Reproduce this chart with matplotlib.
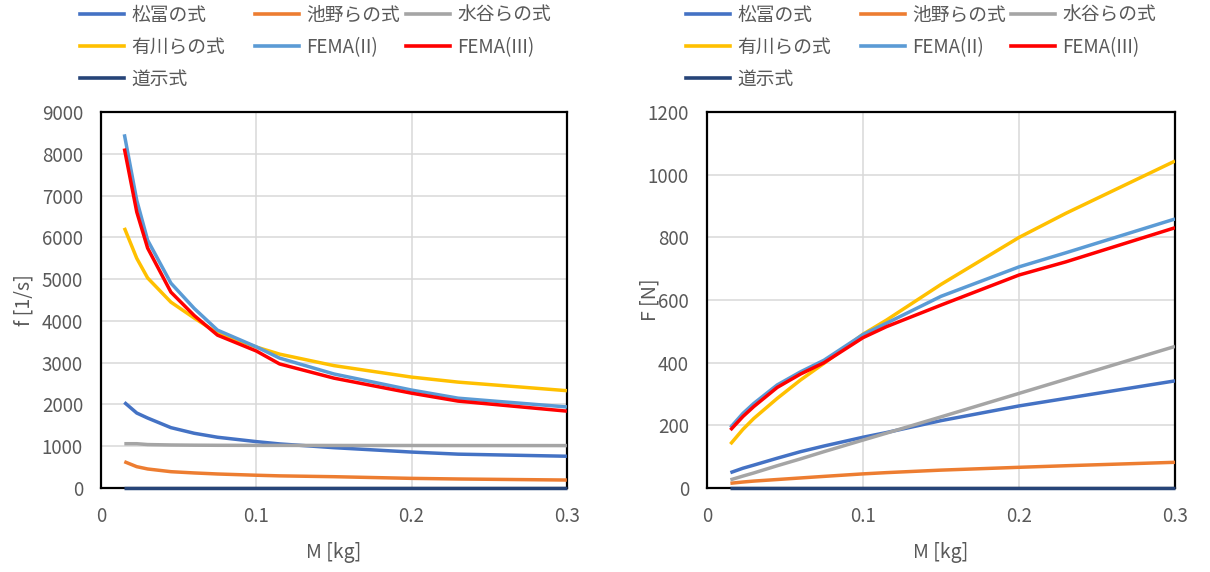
import numpy as np
import matplotlib.pyplot as plt
from matplotlib.lines import Line2D

plt.rcParams['font.family'] = ['Noto Sans CJK JP', 'DejaVu Sans']

# masses [kg]
M = [0.015, 0.023, 0.03, 0.045, 0.06, 0.075, 0.1, 0.115, 0.15, 0.2, 0.23, 0.3]

names = ['松冨の式', '池野らの式', '水谷らの式', '有川らの式', 'FEMA(II)', 'FEMA(III)', '道示式']
colors = ['#4472C4', '#ED7D31', '#A5A5A5', '#FFC000', '#5B9BD5', '#FF0000', '#264478']

# frequency f [1/s]
f_matsutomi = [2050, 1795, 1675, 1445, 1310, 1215, 1110, 1055, 965, 860, 810, 760]
f_ikeno = [630, 510, 455, 390, 360, 335, 305, 290, 270, 230, 215, 190]
f_mizutani = [1060, 1060, 1040, 1030, 1025, 1022, 1020, 1020, 1018, 1017, 1016, 1015]
f_arikawa = [6230, 5500, 5030, 4450, 4070, 3710, 3375, 3205, 2930, 2655, 2535, 2330]
f_fema2 = [8470, 6890, 5935, 4905, 4300, 3780, 3380, 3110, 2730, 2345, 2150, 1940]
f_fema3 = [8130, 6610, 5745, 4690, 4130, 3660, 3280, 2970, 2630, 2270, 2080, 1840]
f_doji = [0] * 12

# force F [N]
F_matsutomi = [49, 63, 73, 95, 116, 134, 162, 177, 215, 262, 286, 342]
F_ikeno = [15, 19, 22, 27, 32, 37, 45, 49, 57, 66, 71, 82]
F_mizutani = [26, 38, 48, 71, 93, 116, 153, 175, 227, 302, 347, 452]
F_arikawa = [140, 187, 222, 286, 345, 398, 491, 536, 650, 800, 877, 1044]
F_fema2 = [193, 238, 270, 329, 371, 408, 490, 526, 612, 706, 751, 859]
F_fema3 = [185, 228, 260, 321, 364, 400, 480, 515, 584, 680, 722, 831]
F_doji = [0] * 12

f_series = [f_matsutomi, f_ikeno, f_mizutani, f_arikawa, f_fema2, f_fema3, f_doji]
F_series = [F_matsutomi, F_ikeno, F_mizutani, F_arikawa, F_fema2, F_fema3, F_doji]

txt = '#595959'
fig = plt.figure(figsize=(12.1, 5.72), dpi=100)
ax1 = fig.add_axes([0.0835, 0.1469, 0.385, 0.657])
ax2 = fig.add_axes([0.5843, 0.1469, 0.3868, 0.657])


def setup(ax, data, ymax, ystep, ylabel, ylab_x):
    for i, ys in enumerate(data):
        ax.plot(M, ys, color=colors[i], lw=2.5, solid_capstyle='butt',
                solid_joinstyle='round', clip_on=(i != 6), zorder=3 + i)
    ax.set_xlim(0, 0.3)
    ax.set_ylim(0, ymax)
    ax.set_xticks([0, 0.1, 0.2, 0.3])
    ax.set_xticklabels(['0', '0.1', '0.2', '0.3'])
    ax.set_yticks(np.arange(0, ymax + 1, ystep))
    ax.grid(True, color='#d9d9d9', lw=1.1, zorder=0)
    ax.tick_params(length=0, labelsize=13.5, colors=txt)
    ax.tick_params(axis='y', pad=13)
    ax.tick_params(axis='x', pad=13)
    for s in ax.spines.values():
        s.set_color('black')
        s.set_linewidth(1.6)
    ax.set_xlabel('M [kg]', fontsize=14, color=txt)
    ax.set_ylabel(ylabel, fontsize=14, color=txt)
    ax.xaxis.set_label_coords(0.5, -0.145)
    ax.yaxis.set_label_coords(ylab_x, 0.5)


setup(ax1, f_series, 9000, 1000, 'f [1/s]', -0.142)
setup(ax2, F_series, 1200, 200, 'F [N]', -0.099)

# legends: three columns per panel, row-major like the original
rows = [[0, 3, 6], [1, 4], [2, 5]]


def legend_cols(x0s):
    for col, x0 in zip(rows, x0s):
        hs = [Line2D([], [], color=colors[i], lw=2.6) for i in col]
        fig.legend(hs, [names[i] for i in col], loc='upper left',
                   bbox_to_anchor=(x0 / 1210, 1 - 5 / 572), frameon=False,
                   fontsize=13.5, labelcolor=txt, handlelength=2.35,
                   handletextpad=0.37, labelspacing=0.58, borderpad=0,
                   borderaxespad=0)


legend_cols([80, 255, 406])
legend_cols([686, 861, 1011])

fig.savefig('out.png', dpi=100)
